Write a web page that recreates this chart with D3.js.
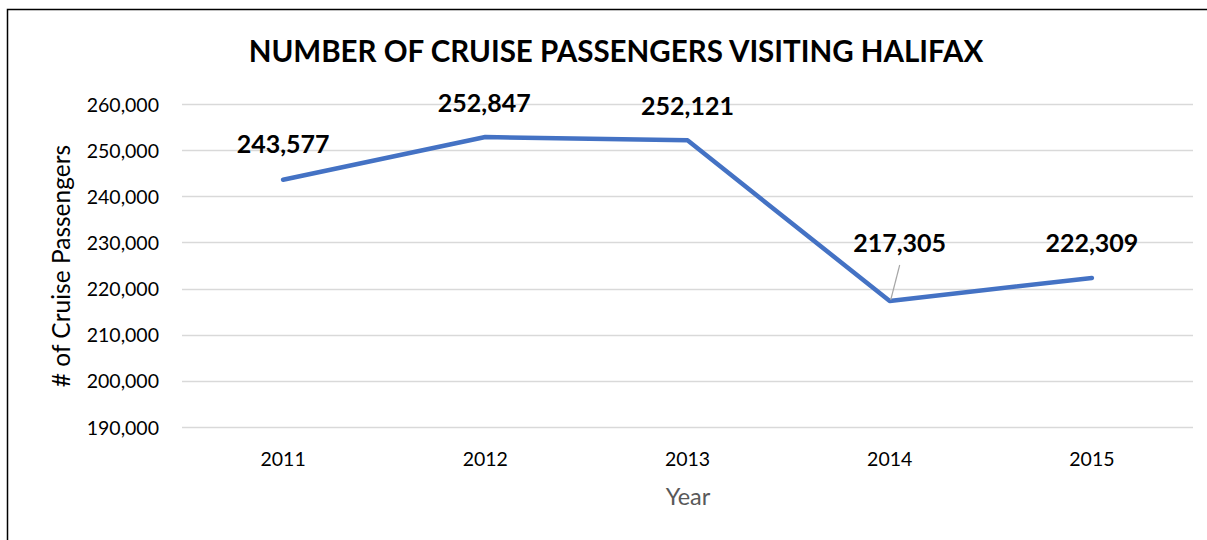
<!DOCTYPE html>
<html>
<head>
<meta charset="utf-8">
<script src="https://cdn.jsdelivr.net/npm/d3@7"></script>
<style>
  html, body { margin: 0; padding: 0; background: #fff; }
  svg { display: block; }
  text { font-family: Lato, "Open Sans", "DejaVu Sans", sans-serif; }
</style>
</head>
<body>
<svg id="chart" width="1207" height="540"></svg>
<script>
// Halifax cruise passenger counts by year
const years = ["2011", "2012", "2013", "2014", "2015"];
const passengers = [243577, 252847, 252121, 217305, 222309];
const yTicks = [190000, 200000, 210000, 220000, 230000, 240000, 250000, 260000];

const svg = d3.select("#chart");
const W = 1207, H = 540;
const plot = { left: 182, right: 1193, top: 104, bottom: 427 };

// frame around the chart area
svg.append("path")
  .attr("d", `M7.5,${H} V9.5 H${W}`)
  .attr("fill", "none")
  .attr("stroke", "#000")
  .attr("stroke-width", 1.5);

const x = d3.scaleBand().domain(years).range([plot.left, plot.right]);
const y = d3.scaleLinear().domain([190000, 260000]).range([plot.bottom, plot.top]);

// horizontal gridlines
svg.append("g")
  .selectAll("line")
  .data(yTicks)
  .join("line")
  .attr("x1", plot.left).attr("x2", plot.right)
  .attr("y1", d => Math.round(y(d)) + 0.5).attr("y2", d => Math.round(y(d)) + 0.5)
  .attr("stroke", "#d9d9d9")
  .attr("stroke-width", 1.5);

// y axis labels
const yAxis = d3.axisLeft(y).tickValues(yTicks).tickFormat(d3.format(",")).tickSize(0).tickPadding(0);
const gy = svg.append("g").attr("transform", `translate(159,0)`).call(yAxis);
gy.select(".domain").remove();
gy.selectAll("text")
  .attr("dy", "0.36em")
  .attr("font-size", 19.5)
  .attr("fill", "#000")
  .attr("font-family", "Lato, 'Open Sans', sans-serif");

// x axis labels
const xAxis = d3.axisBottom(x).tickSize(0).tickPadding(0);
const gx = svg.append("g").attr("transform", `translate(0,466)`).call(xAxis);
gx.select(".domain").remove();
gx.selectAll("text")
  .attr("dy", 0)
  .attr("font-size", 19.5)
  .attr("fill", "#000")
  .attr("font-family", "Lato, 'Open Sans', sans-serif");

// title
svg.append("text")
  .attr("x", 616).attr("y", 62)
  .attr("text-anchor", "middle")
  .attr("font-size", 29.5)
  .attr("font-weight", "bold")
  .attr("fill", "#000")
  .text("NUMBER OF CRUISE PASSENGERS VISITING HALIFAX");

// axis titles
svg.append("text")
  .attr("x", 688).attr("y", 505)
  .attr("text-anchor", "middle")
  .attr("font-size", 23.5)
  .attr("fill", "#595959")
  .text("Year");

svg.append("text")
  .attr("transform", `translate(70,266) rotate(-90)`)
  .attr("text-anchor", "middle")
  .attr("font-size", 24.5)
  .attr("fill", "#000")
  .text("# of Cruise Passengers");

// series line
const pts = years.map((yr, i) => ({ yr, v: passengers[i] }));
const cx = d => x(d.yr) + x.bandwidth() / 2;
const line = d3.line().x(cx).y(d => y(d.v));
svg.append("path")
  .datum(pts)
  .attr("d", line)
  .attr("fill", "none")
  .attr("stroke", "#4472C4")
  .attr("stroke-width", 4.5)
  .attr("stroke-linejoin", "round")
  .attr("stroke-linecap", "round");

// data labels (offset of each label's baseline from its point)
const labelOffsets = [
  { dx: 0, dy: -27 },
  { dx: -1, dy: -25 },
  { dx: 0, dy: -25 },
  { dx: 10, dy: -49 },
  { dx: 0, dy: -26 }
];
const fmt = d3.format(",");
svg.append("g")
  .selectAll("text")
  .data(pts)
  .join("text")
  .attr("x", (d, i) => cx(d) + labelOffsets[i].dx)
  .attr("y", (d, i) => y(d.v) + labelOffsets[i].dy)
  .attr("text-anchor", "middle")
  .attr("font-size", 25)
  .attr("font-weight", "bold")
  .attr("fill", "#000")
  .text(d => fmt(d.v));

// leader line for the 2014 label
const p14 = pts[3];
svg.append("line")
  .attr("x1", cx(p14) + 1).attr("y1", y(p14.v) - 1)
  .attr("x2", cx(p14) + 10).attr("y2", y(p14.v) - 36)
  .attr("stroke", "#a6a6a6")
  .attr("stroke-width", 1.2);
</script>
</body>
</html>
